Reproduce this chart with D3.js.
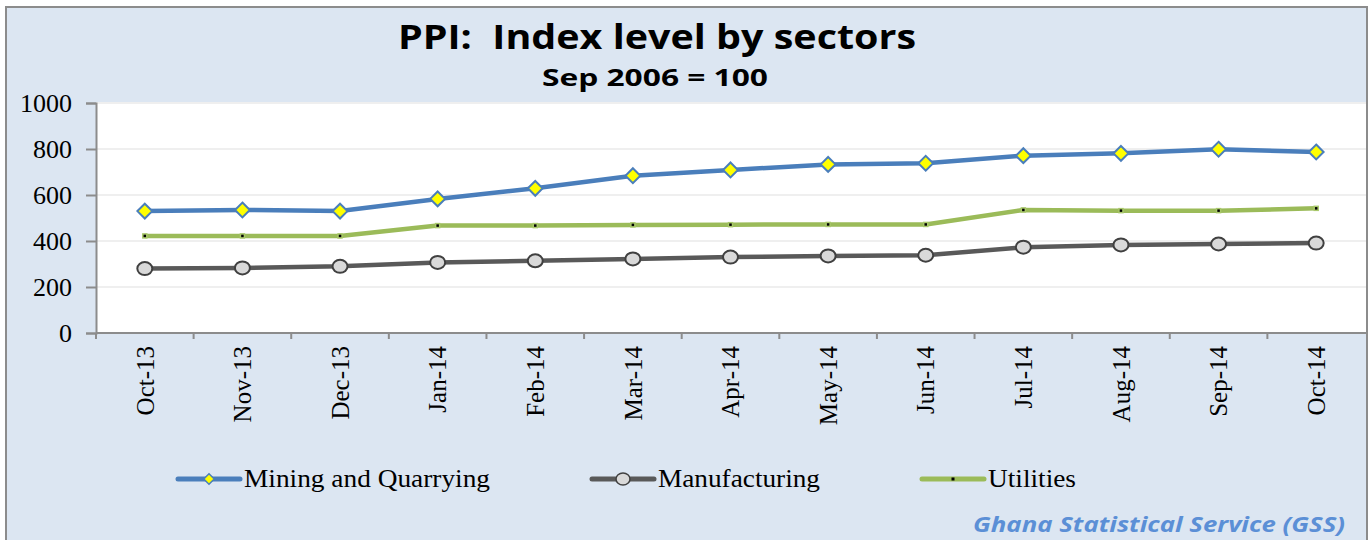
<!DOCTYPE html>
<html>
<head>
<meta charset="utf-8">
<script src="https://cdn.jsdelivr.net/npm/d3@7"></script>
<style>
  body { margin: 0; background: #fff; }
  svg { display: block; }
</style>
</head>
<body>
<div id="chart"></div>
<script>
// Data
const months = ["Oct-13", "Nov-13", "Dec-13", "Jan-14", "Feb-14", "Mar-14", "Apr-14",
    "May-14", "Jun-14", "Jul-14", "Aug-14", "Sep-14", "Oct-14"];
const mining = [530, 535, 530, 583, 629, 684, 709, 733, 738, 771, 781, 799, 787];
const manufacturing = [280, 283, 290, 307, 314, 322, 330, 335, 338, 373, 383, 387, 391];
const utilities = [422, 422, 422, 467, 467, 470, 471, 472, 472, 535, 532, 532, 542];
const yTicks = [0, 200, 400, 600, 800, 1000];

const colors = {
    mining: "#4a7ebb",
    manufacturing: "#595959",
    utilities: "#9bbb59",
    frame: "#dce6f2"
};

const W = 1371, H = 540;
const plot = { left: 96, right: 1366, top: 103, bottom: 333 };

const svg = d3.select("#chart")
    .append("svg")
    .attr("width", W)
    .attr("height", H);

// outer frame
svg.append("rect")
    .attr("x", 6).attr("y", 7)
    .attr("width", 1361).attr("height", 545)
    .attr("fill", colors.frame)
    .attr("stroke", "#8c8c8c")
    .attr("stroke-width", 2);

// plot area
svg.append("rect")
    .attr("x", plot.left).attr("y", plot.top)
    .attr("width", plot.right - plot.left).attr("height", plot.bottom - plot.top)
    .attr("fill", "#fff");

// titles
svg.append("text")
    .attr("x", 657).attr("y", 49)
    .attr("text-anchor", "middle")
    .attr("font-family", "Open Sans")
    .attr("font-weight", "bold")
    .attr("font-size", 34)
    .attr("textLength", 518)
    .attr("lengthAdjust", "spacingAndGlyphs")
    .style("white-space", "pre")
    .text("PPI:  Index level by sectors");

svg.append("text")
    .attr("x", 655).attr("y", 86)
    .attr("text-anchor", "middle")
    .attr("font-family", "Open Sans")
    .attr("font-weight", "bold")
    .attr("font-size", 24)
    .attr("textLength", 226)
    .attr("lengthAdjust", "spacingAndGlyphs")
    .text("Sep 2006 = 100");

// scales
const x = d3.scaleBand()
    .domain(months)
    .range([plot.left, plot.right - 1])
    .padding(0);

const y = d3.scaleLinear()
    .domain([0, 1000])
    .range([plot.bottom, plot.top]);

const cx = d => x(d) + x.bandwidth() / 2;

// gridlines
svg.append("g")
    .selectAll("line")
    .data(yTicks.filter(t => t > 0))
    .enter()
    .append("line")
    .attr("x1", plot.left).attr("x2", plot.right)
    .attr("y1", d => y(d)).attr("y2", d => y(d))
    .attr("stroke", "#efefef")
    .attr("stroke-width", 2);

// y axis
const yAxis = svg.append("g")
    .attr("transform", `translate(${plot.left},0)`)
    .call(d3.axisLeft(y).tickValues(yTicks).tickSize(10).tickPadding(14).tickFormat(d3.format("d")));
yAxis.select(".domain").attr("stroke", "#8c8c8c").attr("stroke-width", 2);
yAxis.selectAll(".tick line").attr("stroke", "#8c8c8c").attr("stroke-width", 2);
yAxis.selectAll(".tick text")
    .attr("font-family", "Liberation Serif")
    .attr("font-size", 26)
    .attr("fill", "#000");

// x axis
const xAxis = svg.append("g")
    .attr("transform", `translate(0,${plot.bottom})`)
    .call(d3.axisBottom(x).tickSize(0).tickPadding(0));
xAxis.select(".domain").remove();
svg.append("line")
    .attr("x1", plot.left).attr("x2", plot.right)
    .attr("y1", plot.bottom).attr("y2", plot.bottom)
    .attr("stroke", "#8c8c8c").attr("stroke-width", 2);
// ticks at band boundaries
svg.append("g")
    .selectAll("line")
    .data(months)
    .enter()
    .append("line")
    .attr("x1", d => x(d)).attr("x2", d => x(d))
    .attr("y1", plot.bottom).attr("y2", plot.bottom + 6)
    .attr("stroke", "#8c8c8c").attr("stroke-width", 2);
xAxis.selectAll(".tick text")
    .attr("font-family", "Liberation Serif")
    .attr("font-size", 25)
    .attr("fill", "#000")
    .attr("text-anchor", "end")
    .attr("dy", "0.35em")
    .attr("transform", "translate(0,13) rotate(-90)");

// lines
const line = d3.line()
    .x((d, i) => cx(months[i]))
    .y(d => y(d));

function drawLine(values, color) {
    svg.append("path")
        .datum(values)
        .attr("fill", "none")
        .attr("stroke", color)
        .attr("stroke-width", 4.5)
        .attr("stroke-linejoin", "round")
        .attr("d", line);
}

drawLine(mining, colors.mining);
drawLine(manufacturing, colors.manufacturing);
drawLine(utilities, colors.utilities);

// markers
const diamond = d3.symbol().type(d3.symbolDiamond2).size(140);

svg.append("g")
    .selectAll("path")
    .data(mining)
    .enter()
    .append("path")
    .attr("d", diamond)
    .attr("transform", (d, i) => `translate(${cx(months[i])},${y(d)})`)
    .attr("fill", "#ffff00")
    .attr("stroke", colors.mining)
    .attr("stroke-width", 2);

svg.append("g")
    .selectAll("ellipse")
    .data(manufacturing)
    .enter()
    .append("ellipse")
    .attr("cx", (d, i) => cx(months[i]))
    .attr("cy", d => y(d))
    .attr("rx", 7.5).attr("ry", 6.5)
    .attr("fill", "#d9d9d9")
    .attr("stroke", "#404040")
    .attr("stroke-width", 2);

svg.append("g")
    .selectAll("rect")
    .data(utilities)
    .enter()
    .append("rect")
    .attr("x", (d, i) => cx(months[i]) - 2)
    .attr("y", d => y(d) - 2)
    .attr("width", 4).attr("height", 4)
    .attr("fill", "#000")
    .attr("stroke", "#a9c86b")
    .attr("stroke-width", 1.5);

// legend
const legendItems = [
    { name: "Mining and Quarrying", color: colors.mining, x: 178, w: 246, type: "diamond" },
    { name: "Manufacturing", color: colors.manufacturing, x: 592, w: 162, type: "circle" },
    { name: "Utilities", color: colors.utilities, x: 922, w: 88, type: "square" }
];
const ly = 479;
const lg = svg.append("g");
legendItems.forEach(it => {
    lg.append("line")
        .attr("x1", it.x).attr("x2", it.x + 62)
        .attr("y1", ly).attr("y2", ly)
        .attr("stroke", it.color).attr("stroke-width", 5)
        .attr("stroke-linecap", "round");
    const mx = it.x + 31;
    if (it.type === "diamond") {
        lg.append("path")
            .attr("d", d3.symbol().type(d3.symbolDiamond2).size(70))
            .attr("transform", `translate(${mx},${ly})`)
            .attr("fill", "#ffff00").attr("stroke", colors.mining).attr("stroke-width", 1.5);
    } else if (it.type === "circle") {
        lg.append("ellipse")
            .attr("cx", mx).attr("cy", ly).attr("rx", 7).attr("ry", 6)
            .attr("fill", "#d9d9d9").attr("stroke", "#404040").attr("stroke-width", 1.5);
    } else {
        lg.append("rect")
            .attr("x", mx - 1.5).attr("y", ly - 1.5).attr("width", 3).attr("height", 3)
            .attr("fill", "#000");
    }
    lg.append("text")
        .attr("x", it.x + 66).attr("y", ly + 8)
        .attr("font-family", "Liberation Serif")
        .attr("font-size", 25)
        .attr("textLength", it.w)
        .attr("lengthAdjust", "spacingAndGlyphs")
        .text(it.name);
});

// source note
svg.append("text")
    .attr("x", 1345).attr("y", 532)
    .attr("text-anchor", "end")
    .attr("font-family", "Open Sans")
    .attr("font-style", "italic")
    .attr("font-weight", "bold")
    .attr("font-size", 22)
    .attr("fill", "#5b8fd6")
    .attr("textLength", 372)
    .attr("lengthAdjust", "spacingAndGlyphs")
    .text("Ghana Statistical Service (GSS)");
</script>
</body>
</html>
